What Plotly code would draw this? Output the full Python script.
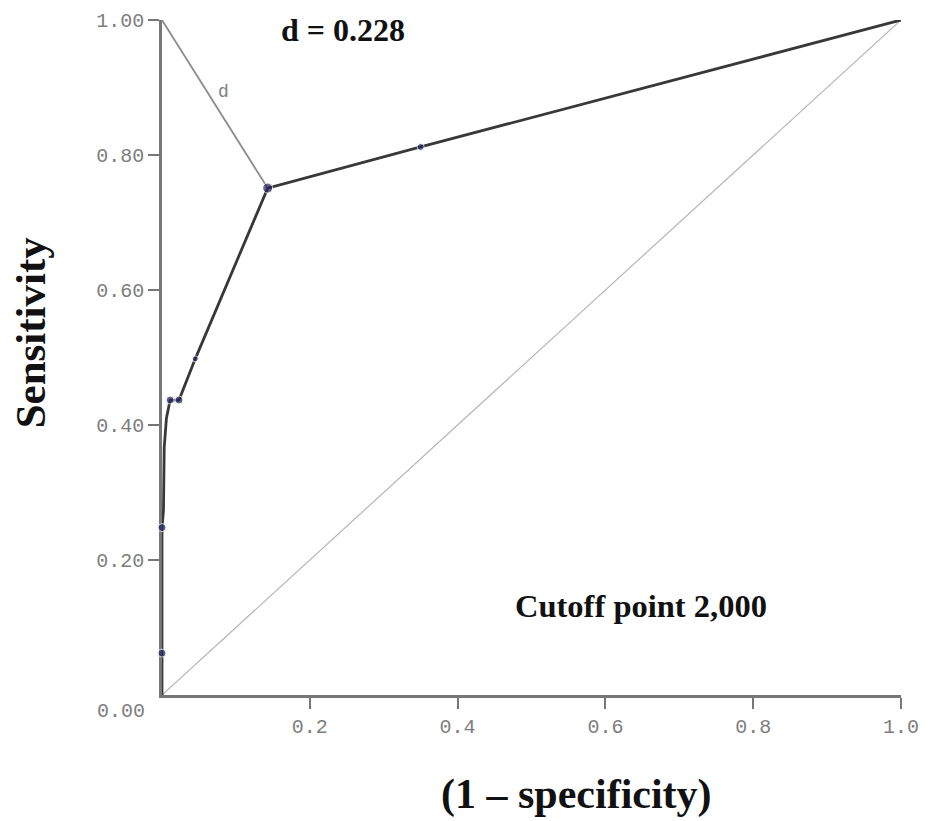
import plotly.graph_objects as go

# ROC curve vertices (1 - specificity, sensitivity)
roc_fpr = [0, 0, 0, 0.002, 0.002, 0.003, 0.006, 0.011, 0.023, 0.045, 0.143, 0.35, 1.0]
roc_tpr = [0, 0.062, 0.248, 0.274, 0.322, 0.367, 0.41, 0.437, 0.437, 0.498, 0.751, 0.812, 1.0]

# observed cut-off points
point_fpr = [0, 0, 0.011, 0.023, 0.045, 0.143, 0.35]
point_tpr = [0.062, 0.248, 0.437, 0.437, 0.498, 0.751, 0.812]

# distance line from perfect classifier (0,1) to optimal point
d_fpr = [0, 0.143]
d_tpr = [1.0, 0.751]

# chance diagonal
diag = [0, 1]

x_ticks = [0.2, 0.4, 0.6, 0.8, 1.0]
x_ticktext = ["0.2", "0.4", "0.6", "0.8", "1.0"]
y_ticks = [0.2, 0.4, 0.6, 0.8, 1.0]
y_ticktext = ["0.20", "0.40", "0.60", "0.80", "1.00"]

serif = "Liberation Serif, Times New Roman, serif"
mono = "Liberation Mono, Courier New, monospace"
tick_gray = "#7d7d7d"
axis_gray = "#777777"

fig = go.Figure()

fig.add_trace(go.Scatter(x=diag, y=diag, mode="lines",
                         line=dict(color="#b5b5b5", width=1.2),
                         hoverinfo="skip", showlegend=False, cliponaxis=False))
fig.add_trace(go.Scatter(x=d_fpr, y=d_tpr, mode="lines",
                         line=dict(color="#8c8c8c", width=1.8),
                         hoverinfo="skip", showlegend=False, cliponaxis=False))
fig.add_trace(go.Scatter(x=roc_fpr, y=roc_tpr, mode="lines",
                         line=dict(color="#383838", width=2.8),
                         showlegend=False, cliponaxis=False))
fig.add_trace(go.Scatter(x=point_fpr, y=point_tpr, mode="markers",
                         marker=dict(color="#23235e", size=[8, 8, 8, 8, 6, 10, 7]),
                         showlegend=False, cliponaxis=False))

annotations = [
    dict(x=0.245, y=0.985, text="<b>d = 0.228</b>", font=dict(family=serif, size=32, color="#111")),
    dict(x=0.648, y=0.132, text="<b>Cutoff point 2,000</b>", font=dict(family=serif, size=32.5, color="#111")),
    dict(x=0.083, y=0.893, text="d", font=dict(family=mono, size=18, color="#808080")),
    dict(x=-0.055, y=-0.025, text="0.00", font=dict(family=mono, size=20, color=tick_gray)),
    dict(x=-0.178, y=0.538, text="<b>Sensitivity</b>", textangle=-90,
         font=dict(family=serif, size=43, color="#111")),
    dict(x=0.561, y=-0.148, text="<b>(1 – specificity)</b>", font=dict(family=serif, size=42, color="#111")),
]
for a in annotations:
    # axis range is [0, 1] on both axes, so paper coordinates equal data values
    a.update(xref="paper", yref="paper", showarrow=False, xanchor="center", yanchor="middle")

fig.update_layout(
    width=931, height=821,
    margin=dict(l=154, r=38, t=12, b=134),
    paper_bgcolor="white", plot_bgcolor="white",
    annotations=annotations,
    xaxis=dict(range=[0, 1], showgrid=False, zeroline=False, automargin=False,
               layer="below traces",
               showline=True, linecolor=axis_gray, linewidth=2.5,
               ticks="outside", ticklen=11, tickwidth=1.5, tickcolor=axis_gray,
               tickvals=x_ticks, ticktext=x_ticktext, ticklabelstandoff=0,
               tickfont=dict(family=mono, size=20, color=tick_gray)),
    yaxis=dict(range=[0, 1], showgrid=False, zeroline=False, automargin=False,
               layer="below traces",
               showline=True, linecolor=axis_gray, linewidth=2.5,
               ticks="outside", ticklen=11, tickwidth=1.5, tickcolor=axis_gray,
               tickvals=y_ticks, ticktext=y_ticktext, ticklabelstandoff=0,
               tickfont=dict(family=mono, size=20, color=tick_gray)),
)

fig.write_html("out.html")
